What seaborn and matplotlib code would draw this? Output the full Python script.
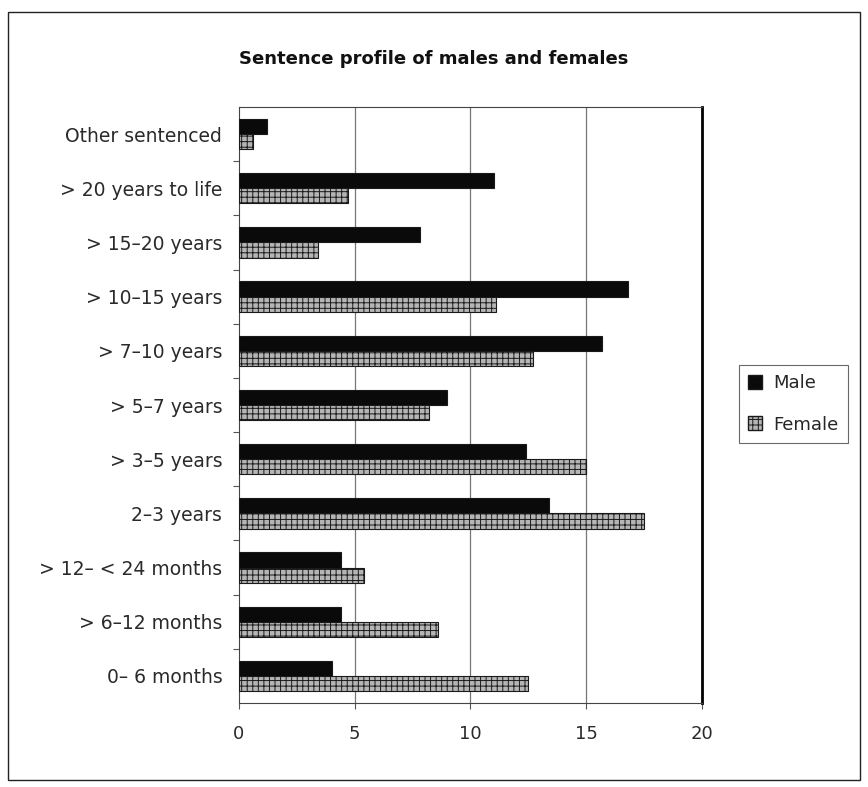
import matplotlib
matplotlib.use("Agg")
import matplotlib.pyplot as plt
from matplotlib.patches import Rectangle, Patch
import seaborn as sns
import pandas as pd

categories = [
    "Other sentenced",
    "> 20 years to life",
    "> 15\u201320 years",
    "> 10\u201315 years",
    "> 7\u201310 years",
    "> 5\u20137 years",
    "> 3\u20135 years",
    "2\u20133 years",
    "> 12\u2013 < 24 months",
    "> 6\u201312 months",
    "0\u2013 6 months",
]
male = [1.2, 11.0, 7.8, 16.8, 15.7, 9.0, 12.4, 13.4, 4.4, 4.4, 4.0]
female = [0.6, 4.7, 3.4, 11.1, 12.7, 8.2, 15.0, 17.5, 5.4, 8.6, 12.5]
series = ["Male", "Female"]
x_ticks = [0, 5, 10, 15, 20]

df = pd.DataFrame({
    "category": categories * 2,
    "value": male + female,
    "sex": [series[0]] * len(categories) + [series[1]] * len(categories),
})

sns.set_style("white")
plt.rcParams["font.family"] = ["DejaVu Sans"]
plt.rcParams["hatch.linewidth"] = 0.7

fig = plt.figure(figsize=(8.68, 7.87), dpi=100)
ax = fig.add_axes([0.2753, 0.1067, 0.5335, 0.7573])

colors = {"Male": "#0a0a0a", "Female": "#b5b5b5"}
sns.barplot(data=df, y="category", x="value", hue="sex", order=categories,
            hue_order=series, palette=colors, orient="h", width=0.56,
            dodge=True, legend=False, ax=ax, zorder=3)

# female bars carry a fine textured fill
n = len(categories)
for i, bar in enumerate(ax.patches):
    bar.set_edgecolor("#1a1a1a")
    bar.set_linewidth(0.8)
    if i >= n:
        bar.set_hatch("+++")

ax.set_xlim(0, 20)
ax.set_ylim(n - 0.5, -0.5)
ax.set_xticks(x_ticks)
ax.set_xticklabels([str(t) for t in x_ticks], fontsize=13, color="#2a2a2a")
ax.tick_params(axis="x", length=4, width=0.8, color="#555555", pad=12, direction="out", bottom=True)
ax.set_yticks(range(n))
ax.tick_params(axis="y", length=0, labelsize=13.5, labelcolor="#2a2a2a", pad=12)
ax.set_yticks([i + 0.5 for i in range(n - 1)], minor=True)
ax.tick_params(axis="y", which="minor", length=4, width=0.8, color="#555555", left=True)
ax.set_xlabel("")
ax.set_ylabel("")

for t in [5, 10, 15]:
    ax.axvline(t, color="#777777", lw=0.9, zorder=1)

for side in ["left", "bottom", "top"]:
    ax.spines[side].set_visible(True)
    ax.spines[side].set_color("#444444")
    ax.spines[side].set_linewidth(0.8)
ax.spines["right"].set_visible(True)
ax.spines["right"].set_color("#000000")
ax.spines["right"].set_linewidth(2.0)

fig.suptitle("Sentence profile of males and females", x=0.5, y=0.937,
             fontsize=13, fontweight="bold", color="#111111")

handles = [
    Patch(facecolor=colors["Male"], edgecolor="#1a1a1a"),
    Patch(facecolor=colors["Female"], edgecolor="#1a1a1a", hatch="+++"),
]
leg = fig.legend(handles, series, loc="upper left",
                 bbox_to_anchor=(739 / 868, 1 - 365 / 787), fontsize=13,
                 frameon=True, fancybox=False, handlelength=0.8,
                 handleheight=0.8, handletextpad=0.6, borderpad=0.5,
                 labelspacing=1.3, borderaxespad=0)
leg.get_frame().set_edgecolor("#444444")
leg.get_frame().set_linewidth(0.8)

fig.patches.append(Rectangle((8 / 868, 1 - 780 / 787), 852 / 868, 768 / 787,
                             transform=fig.transFigure, fill=False,
                             edgecolor="#222222", lw=1.0))

fig.savefig("out.png", dpi=100, facecolor="white")
